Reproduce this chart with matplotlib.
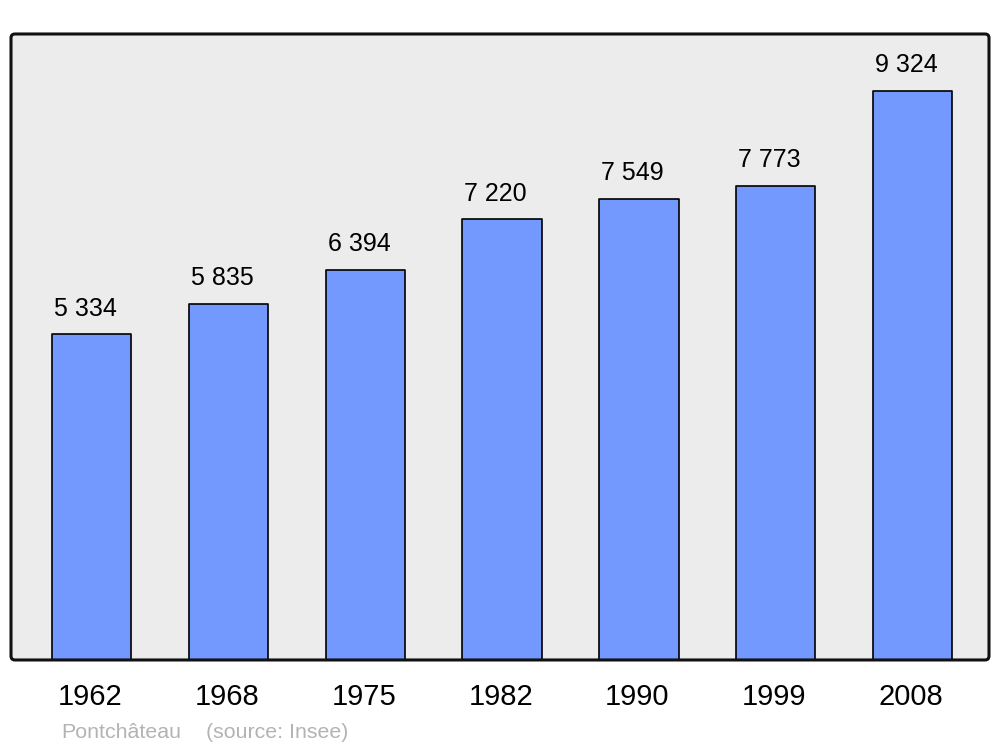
import matplotlib
matplotlib.use("Agg")
import matplotlib.pyplot as plt
from matplotlib.patches import FancyBboxPatch

years = ["1962", "1968", "1975", "1982", "1990", "1999", "2008"]
population = [5334, 5835, 6394, 7220, 7549, 7773, 9324]
value_labels = ["5 334", "5 835", "6 394", "7 220", "7 549", "7 773", "9 324"]

plt.rcParams['font.family'] = ['Liberation Sans', 'DejaVu Sans']

fig = plt.figure(figsize=(10, 7.47), dpi=100)
ax = fig.add_axes([0.011, 0.1165, 0.978, 0.838])
ax.set_facecolor('none')

# rounded frame: fill behind, outline on top
asp = (0.978 * 1000) / (0.838 * 747)
r = 4 / 978
bg = FancyBboxPatch((0, 0), 1, 1, boxstyle="round,pad=0,rounding_size=%f" % r,
                    mutation_aspect=asp, transform=ax.transAxes,
                    facecolor='#ececec', edgecolor='none', zorder=0, clip_on=False)
ax.add_patch(bg)
fr = FancyBboxPatch((0, 0), 1, 1, boxstyle="round,pad=0,rounding_size=%f" % r,
                    mutation_aspect=asp, transform=ax.transAxes,
                    facecolor='none', edgecolor='#111111', linewidth=2.2,
                    zorder=5, clip_on=False)
ax.add_patch(fr)

x = list(range(len(years)))
bars = ax.bar(x, population, width=0.58, color='#7399ff', edgecolor='black',
              linewidth=1.2, zorder=2)
for b in bars:
    b.set_joinstyle('round')

ax.set_xlim(-0.59, 6.56)
ax.set_ylim(0, 9324 * 1.1)
for s in ax.spines.values():
    s.set_visible(False)
ax.set_xticks([])
ax.set_yticks([])

for b, lab in zip(bars, value_labels):
    ax.annotate(lab, (b.get_x(), b.get_height()), xytext=(1.5, 13.5),
                textcoords='offset points', ha='left', va='baseline',
                fontsize=18, color='black')

for xi, yr in zip(x, years):
    ax.annotate(yr, (xi, 0), xycoords=('data', 'axes fraction'),
                xytext=(-1, -32.4), textcoords='offset points',
                ha='center', va='baseline', fontsize=21, color='black')

fig.text(0.061, 0.012, "Pontchâteau", color='#b3b3b3', fontsize=15.4,
         ha='left', va='baseline')
fig.text(0.206, 0.012, "(source: Insee)", color='#b3b3b3', fontsize=15.4,
         ha='left', va='baseline')

fig.savefig("out.png", dpi=100)
